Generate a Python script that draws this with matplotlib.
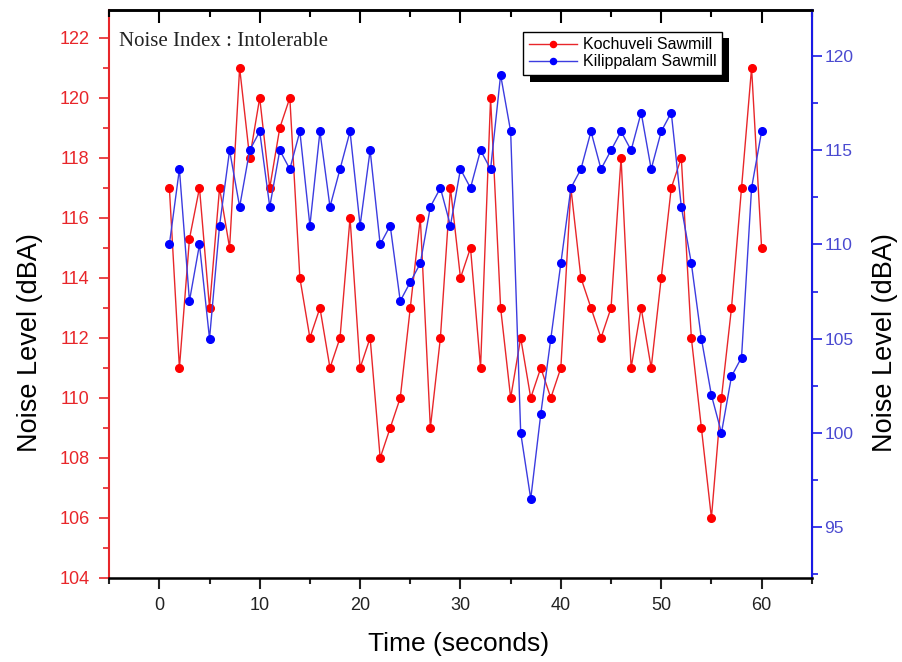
import matplotlib.pyplot as plt
import matplotlib.patheffects as pe
from matplotlib.ticker import MultipleLocator

plt.rcParams['font.family'] = ['Liberation Sans', 'DejaVu Sans']

time_s = list(range(1, 61))

kochuveli = [117, 111, 115.3, 117, 113, 117, 115, 121, 118, 120,
             117, 119, 120, 114, 112, 113, 111, 112, 116, 111,
             112, 108, 109, 110, 113, 116, 109, 112, 117, 114,
             115, 111, 120, 113, 110, 112, 110, 111, 110, 111,
             117, 114, 113, 112, 113, 118, 111, 113, 111, 114,
             117, 118, 112, 109, 106, 110, 113, 117, 121, 115]

kilippalam = [110, 114, 107, 110, 105, 111, 115, 112, 115, 116,
              112, 115, 114, 116, 111, 116, 112, 114, 116, 111,
              115, 110, 111, 107, 108, 109, 112, 113, 111, 114,
              113, 115, 114, 119, 116, 100, 96.5, 101, 105, 109,
              113, 114, 116, 114, 115, 116, 115, 117, 114, 116,
              117, 112, 109, 105, 102, 100, 103, 104, 113, 116]

red = '#e8262a'
blue = '#1a1ae6'

fig = plt.figure(figsize=(9.02, 6.62), dpi=100)
ax = fig.add_axes([0.121, 0.127, 0.779, 0.858])
ax2 = ax.twinx()

l1, = ax.plot(time_s, kochuveli, '-o', color=red, linewidth=1,
              markersize=5.5, markerfacecolor='red', markeredgecolor='red',
              label='Kochuveli Sawmill')
l2, = ax2.plot(time_s, kilippalam, '-o', color='#3c3ce0', linewidth=1,
               markersize=5.5, markerfacecolor='#0000ff', markeredgecolor='#0000ff',
               label='Kilippalam Sawmill')

ax.set_xlim(-5, 65)
ax.set_ylim(104, 122.93)
ax2.set_ylim(92.3, 122.45)

ax.xaxis.set_major_locator(MultipleLocator(10))
ax.xaxis.set_minor_locator(MultipleLocator(5))
ax.yaxis.set_major_locator(MultipleLocator(2))
ax.yaxis.set_minor_locator(MultipleLocator(1))
ax2.yaxis.set_major_locator(MultipleLocator(5))
ax2.yaxis.set_minor_locator(MultipleLocator(2.5))

# bottom ticks point out
ax.tick_params(axis='x', which='both', direction='out', labelsize=13,
               colors='#222222', width=1.5, pad=6)
ax.tick_params(axis='x', which='major', length=8)
ax.tick_params(axis='x', which='minor', length=4)

# top ticks point in, no labels
top = ax2.secondary_xaxis('top')
top.set_xticks([0, 10, 20, 30, 40, 50, 60])
top.set_xticks([-5, 5, 15, 25, 35, 45, 55, 65], minor=True)
top.tick_params(axis='x', which='both', direction='in', labeltop=False,
                width=1.5, color='black', zorder=10)
top.tick_params(axis='x', which='major', length=9)
top.tick_params(axis='x', which='minor', length=5)
top.spines['top'].set_linewidth(1.8)

ax.tick_params(axis='y', which='both', colors=red, labelsize=13, width=1.2, pad=7)
ax.tick_params(axis='y', which='major', length=7)
ax.tick_params(axis='y', which='minor', length=4)
ax2.tick_params(axis='y', which='both', colors=blue, labelsize=12.5, width=1.2, pad=2)
ax2.tick_params(axis='y', which='major', length=7)
ax2.tick_params(axis='y', which='minor', length=4)
for lbl in ax2.get_yticklabels():
    lbl.set_color('#4a4ad0')

ax.spines['left'].set_color(red)
ax.spines['left'].set_linewidth(1.5)
ax2.spines['left'].set_visible(False)
ax2.spines['right'].set_color(blue)
ax2.spines['right'].set_linewidth(1.5)
for s in ('top', 'bottom'):
    ax2.spines[s].set_color('black')
    ax2.spines[s].set_linewidth(1.8)

ax.set_xlabel('Time (seconds)', fontsize=19)
ax.set_ylabel('Noise Level (dBA)', fontsize=19.5)
ax2.set_ylabel('Noise Level (dBA)', fontsize=19.5)
ax.xaxis.set_label_coords(0.497, -0.095)
ax.yaxis.set_label_coords(-0.094, 0.414)
ax2.yaxis.set_label_coords(1.085, 0.414)

ax.text(0.014, 0.944, 'Noise Index : Intolerable', transform=ax.transAxes,
        fontsize=15, family='Liberation Serif', color='#222222', va='center')

leg = ax2.legend(handles=[l1, l2], loc='upper left', bbox_to_anchor=(0.589, 0.962),
                 fontsize=11.5, frameon=True, fancybox=False, edgecolor='black',
                 framealpha=1, handlelength=3.0, handletextpad=0.4, borderpad=0.35,
                 labelspacing=0.15, markerscale=0.8, borderaxespad=0)
leg.get_frame().set_linewidth(1)
leg.get_frame().set_path_effects([
    pe.SimplePatchShadow(offset=(5, -5), shadow_rgbFace='black', alpha=1),
    pe.Normal()])

fig.savefig('out.png', dpi=100)
